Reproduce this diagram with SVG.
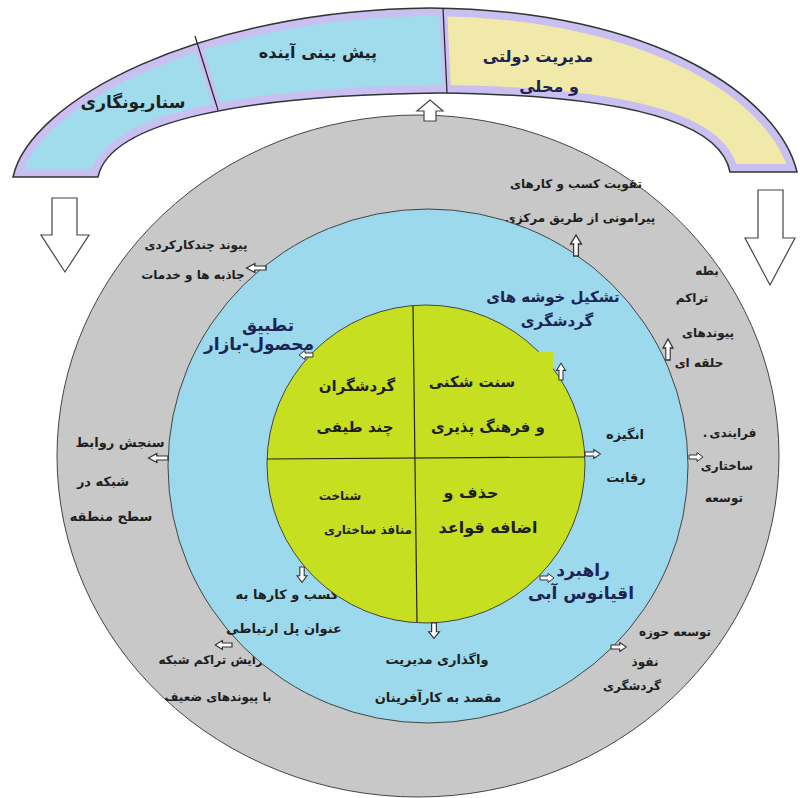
<svg xmlns="http://www.w3.org/2000/svg" xmlns:xlink="http://www.w3.org/1999/xlink" width="800" height="798" viewBox="0 0 800 798">
<style>
.t{font-family:"DejaVu Sans","Noto Sans",sans-serif;fill:#1e1e1e;text-anchor:middle;font-weight:bold}
.s13{font-size:12px}
.s14{font-size:13px}
.s16{font-size:15px}
.s17{font-size:16px}
.s18{font-size:17px}
.navy{fill:#1b2452}
.ring{stroke:#444;stroke-width:1}
.sa{fill:#fff;stroke:#333;stroke-width:1}
.big{fill:#fff;stroke:#444;stroke-width:1.2}
</style>
<defs>
<path id="sa" d="M0,-2 H8 V-4.5 L14,0 L8,4.5 V2 H0 Z"/>
<clipPath id="bandClip"><path id="bandPath" d="M13,177 C30,100 200,10 430,8 C660,10 780,100 797,172 L730,172 C720,120 620,95 440,93 C250,95 110,120 98,177 Z"/></clipPath>
</defs>
<rect width="800" height="798" fill="#fff"/>

<g id="top-band">
<g clip-path="url(#bandClip)">
<rect x="0" y="0" width="800" height="200" fill="#c9bff0"/>
<polygon points="0,0 183,0 195,36 218,110 230,200 0,200" fill="#a0dcec"/>
<polygon points="183,0 441,0 443,8 447,93 448,200 230,200 218,110 195,36" fill="#a0dcec"/>
<polygon points="441,0 800,0 800,200 448,200 447,93 443,8" fill="#f1e9aa"/>
<use xlink:href="#bandPath" fill="none" stroke="#c9bff0" stroke-width="16"/>
<line x1="195" y1="36" x2="218" y2="110" stroke="#c9bff0" stroke-width="8"/>
<line x1="443" y1="8" x2="447" y2="93" stroke="#c9bff0" stroke-width="8"/>
</g>
<use xlink:href="#bandPath" fill="none" stroke="#333" stroke-width="1.5"/>
<line x1="195" y1="36" x2="218" y2="110" stroke="#222" stroke-width="1.2"/>
<line x1="443" y1="8" x2="447" y2="93" stroke="#222" stroke-width="1.2"/>
<text class="t s18" x="133" y="108">سناریونگاری</text>
<text class="t s17" x="318" y="58">پیش بینی آینده</text>
<text class="t s17 navy" x="538" y="62">مدیریت دولتی</text>
<text class="t s17 navy" x="549" y="92">و محلی</text>
</g>

<g id="outer-ring">
<ellipse class="ring" cx="418" cy="456" rx="361" ry="341" fill="#c8c8c8"/>
<text class="t s13" x="576" y="188">تقویت کسب و کارهای</text>
<text class="t s13" x="580" y="222">پیرامونی از طریق مرکزی</text>
<text class="t s13" x="196" y="249">پیوند چندکارکردی</text>
<text class="t s13" x="193" y="279">جاذبه ها و خدمات</text>
<text class="t s13" x="707" y="275">بطه</text>
<text class="t s13" x="692" y="302">تراکم</text>
<text class="t s13" x="708" y="337">پیوندهای</text>
<text class="t s13" x="699" y="367">حلقه ای</text>
<text class="t s14" x="120" y="447">سنجش روابط</text>
<text class="t s14" x="103" y="486">شبکه در</text>
<text class="t s14" x="111" y="521">سطح منطقه</text>
<text class="t s13" x="705" y="437">.</text>
<text class="t s13" x="733" y="437">فرایندی</text>
<text class="t s13" x="727" y="470">ساختاری</text>
<text class="t s13" x="724" y="502">توسعه</text>
<text class="t s13" x="675" y="636">توسعه حوزه</text>
<text class="t s13" x="645" y="666">نفوذ</text>
<text class="t s13" x="632" y="690">گردشگری</text>
<text class="t s13" x="217" y="664">افزایش تراکم شبکه</text>
<text class="t s13" x="218" y="701">با پیوندهای ضعیف</text>
</g>

<g id="middle-ring">
<ellipse class="ring" cx="428" cy="466" rx="260" ry="257" fill="#9dd9ec"/>
<text class="t s16 navy" x="553" y="302">تشکیل خوشه های</text>
<text class="t s16 navy" x="557" y="326">گردشگری</text>
<text class="t s18 navy" x="268" y="331">تطبیق</text>
<text class="t s18 navy" x="259" y="350">محصول-بازار</text>
<text class="t s14" x="625" y="439">انگیزه</text>
<text class="t s14" x="626" y="482">رقابت</text>
<text class="t s18 navy" x="583" y="576">راهبرد</text>
<text class="t s18 navy" x="581" y="599">اقیانوس آبی</text>
<text class="t s14" x="287" y="599">کسب و کارها به</text>
<text class="t s14" x="284" y="633">عنوان پل ارتباطی</text>
<text class="t s14" x="437" y="664">واگذاری مدیریت</text>
<text class="t s14" x="438" y="702">مقصد به کارآفرینان</text>
</g>

<g id="core">
<circle class="ring" cx="426" cy="464" r="159" fill="#c6e021"/>
<rect x="510" y="352" width="43" height="22" fill="#c6e021"/>
<line x1="413" y1="306" x2="417" y2="622" stroke="#222" stroke-width="1.2"/>
<line x1="267" y1="459" x2="585" y2="457" stroke="#222" stroke-width="1.2"/>
<text class="t s16" x="357" y="391">گردشگران</text>
<text class="t s16" x="355" y="432">چند طیفی</text>
<text class="t s16" x="472" y="387">سنت شکنی</text>
<text class="t s16" x="488" y="432">و فرهنگ پذیری</text>
<text class="t s17" x="471" y="498">حذف و</text>
<text class="t s17" x="488" y="533">اضافه قواعد</text>
<text class="t s13" x="340" y="500">شناخت</text>
<text class="t s13" x="368" y="534">منافذ ساختاری</text>
</g>

<g id="connectors">
<polygon class="big" points="424,121 424,111 417,111 430,100 443,111 436,111 436,121"/>
<polygon class="big" points="52,198 77,198 77,235 89,235 65,272 41,235 52,235"/>
<polygon class="big" points="758,190 783,190 783,238 795,238 770,285 745,238 758,238"/>
<use class="sa" xlink:href="#sa" transform="translate(266,268) rotate(180) scale(1.4,1)"/>
<use class="sa" xlink:href="#sa" transform="translate(313,355) rotate(180)"/>
<use class="sa" xlink:href="#sa" transform="translate(168,458) rotate(180) scale(1.4,1)"/>
<use class="sa" xlink:href="#sa" transform="translate(576,256) rotate(-90) scale(1.5,1.2)"/>
<use class="sa" xlink:href="#sa" transform="translate(668,360) rotate(-90) scale(1.5,1.1)"/>
<use class="sa" xlink:href="#sa" transform="translate(561,380) rotate(-90) scale(1.2,1)"/>
<use class="sa" xlink:href="#sa" transform="translate(585,454) scale(1.1,1)"/>
<use class="sa" xlink:href="#sa" transform="translate(689,457)"/>
<use class="sa" xlink:href="#sa" transform="translate(540,578)"/>
<use class="sa" xlink:href="#sa" transform="translate(302,567) rotate(90) scale(1.1,1.1)"/>
<use class="sa" xlink:href="#sa" transform="translate(434,623) rotate(90) scale(1.1,1.2)"/>
<use class="sa" xlink:href="#sa" transform="translate(232,645) rotate(180) scale(1.2,1)"/>
<use class="sa" xlink:href="#sa" transform="translate(611,647) scale(1.1,1)"/>
</g>
</svg>
